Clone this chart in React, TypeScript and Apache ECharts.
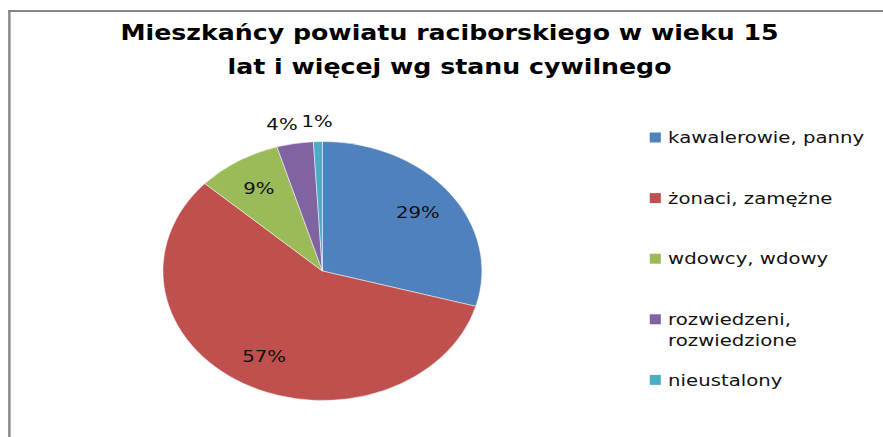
import React, { useEffect, useRef } from "react";
import * as echarts from "echarts";

const titleLines = [
  "Mieszkańcy powiatu raciborskiego w wieku 15",
  "lat i więcej wg stanu cywilnego",
];
const categories = [
  "kawalerowie, panny",
  "żonaci, zamężne",
  "wdowcy, wdowy",
  "rozwiedzeni, rozwiedzione",
  "nieustalony",
];
const values = [29.4, 57.4, 8.6, 3.7, 0.9];
const colors = ["#4F81BD", "#C0504D", "#9BBB59", "#8064A2", "#4BACC6"];

// The reference image is horizontally stretched; draw at W and scale to 883.
const W = 717;
const H = 437;
const SX = 883 / W;
const CX = 261.8;
const CY = 271;
const R = 129.5;
const FONT = "'DejaVu Sans', sans-serif";

export default function App() {
  const ref = useRef<HTMLDivElement>(null);

  useEffect(() => {
    if (!ref.current) return;
    const chart = echarts.init(ref.current, undefined, { renderer: "svg" });
    const total = values.reduce((a, b) => a + b, 0);
    const pcts = values.map((v) => (v / total) * 100);
    const mids = values.map((v, i) => {
      const before = values.slice(0, i).reduce((a, b) => a + b, 0);
      return ((before + v / 2) / total) * 2 * Math.PI;
    });
    // Spread neighbouring outside labels apart angularly (best-fit style)
    const labelAngles = mids.slice();
    const minSep = (11 * Math.PI) / 180;
    for (let i = labelAngles.length - 2; i >= 0; i--) {
      if (pcts[i] < 5 && pcts[i + 1] < 5) {
        if (labelAngles[i + 1] - labelAngles[i] < minSep) {
          labelAngles[i] = labelAngles[i + 1] - minSep;
        }
      }
    }

    const legendTop = 137.5;
    const legendStep = 60.6;
    const legendGraphics: any[] = [];
    categories.forEach((name, i) => {
      const cy = legendTop + i * legendStep;
      legendGraphics.push({
        type: "rect",
        shape: { x: 527.6, y: cy - 5, width: 9, height: 10 },
        style: { fill: colors[i] },
        silent: true,
      });
      legendGraphics.push({
        type: "text",
        x: 542.5,
        y: cy - 10.5,
        style: {
          text: name,
          fill: "#111",
          fontSize: 16,
          fontFamily: FONT,
          lineHeight: 21,
          width: 168,
          overflow: "break",
          align: "left",
          verticalAlign: "top",
        },
        silent: true,
      });
    });

    chart.setOption({
      animation: false,
      backgroundColor: "#fff",
      title: {
        text: titleLines.join("\n"),
        left: 365,
        top: 16,
        padding: 0,
        textAlign: "center",
        textStyle: {
          fontSize: 20.5,
          fontWeight: "bold",
          fontFamily: FONT,
          color: "#000",
          lineHeight: 34,
        },
      },
      graphic: [
        {
          type: "line",
          shape: { x1: 6.6, y1: 11, x2: W, y2: 11 },
          style: { stroke: "#878787", lineWidth: 2 },
          silent: true,
        },
        {
          type: "line",
          shape: { x1: 7.6, y1: 10, x2: 7.6, y2: H },
          style: { stroke: "#878787", lineWidth: 2 },
          silent: true,
        },
        ...legendGraphics,
      ],
      series: [
        {
          type: "pie",
          center: [CX, CY],
          radius: R,
          startAngle: 90,
          clockwise: true,
          percentPrecision: 0,
          avoidLabelOverlap: false,
          silent: true,
          emphasis: { disabled: true },
          itemStyle: { borderColor: "rgba(255,255,255,0.75)", borderWidth: 0.6 },
          labelLine: { show: false },
          label: {
            show: true,
            formatter: "{d}%",
            fontSize: 16,
            fontFamily: FONT,
            color: "#111",
          },
          labelLayout: (p: any) => {
            const i = p.dataIndex;
            const f = pcts[i] >= 5 ? 0.75 : 1.16;
            const a = labelAngles[i];
            return {
              x: CX + f * R * Math.sin(a),
              y: CY - f * R * Math.cos(a),
              align: "center",
              verticalAlign: "middle",
            };
          },
          data: categories.map((name, i) => ({
            name,
            value: values[i],
            itemStyle: { color: colors[i] },
            label: { position: pcts[i] >= 5 ? "inside" : "outside" },
          })),
        },
      ],
    });

    return () => chart.dispose();
  }, []);

  return (
    <div
      style={{
        position: "absolute",
        left: 0,
        top: 0,
        width: 883,
        height: H,
        overflow: "hidden",
        background: "#fff",
      }}
    >
      <div
        ref={ref}
        style={{
          width: W,
          height: H,
          transform: `scaleX(${SX})`,
          transformOrigin: "0 0",
        }}
      />
    </div>
  );
}
